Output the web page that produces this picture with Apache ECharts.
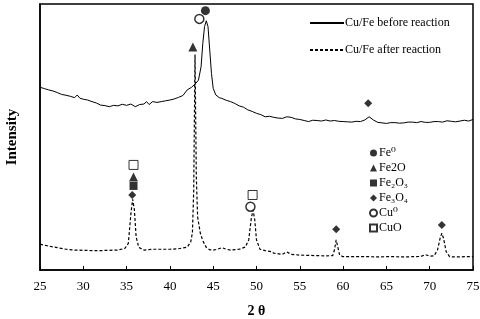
<!DOCTYPE html>
<html>
<head>
<meta charset="utf-8">
<script src="https://cdn.jsdelivr.net/npm/echarts@6/dist/echarts.min.js"></script>
<style>
  html, body { margin: 0; padding: 0; background: #fff; }
  #chart { width: 480px; height: 319px; }
</style>
</head>
<body>
<div id="chart"></div>
<script>
// 2θ positions and intensities (arbitrary units, 0-100)
const beforeTheta = [25, 25.5, 26, 26.5, 27, 27.5, 28, 28.5, 29, 29.3, 29.6, 30, 30.5, 31, 31.5, 32, 32.5, 33, 33.5, 34, 34.5, 35, 35.5, 36, 36.5, 37, 37.3, 37.6, 38, 38.5, 39, 39.5, 40, 40.5, 41, 41.5, 42, 42.5, 43, 43.3, 43.6, 43.8, 44.0, 44.2, 44.4, 44.6, 44.8, 45.0, 45.3, 45.7, 46, 46.5, 47, 47.5, 48, 48.5, 49, 49.5, 50, 50.5, 51, 51.5, 52, 52.5, 53, 53.5, 54, 54.5, 55, 55.5, 56, 56.5, 57, 57.5, 58, 58.5, 59, 59.5, 60, 60.5, 61, 61.5, 62, 62.5, 63, 63.5, 64, 64.5, 65, 65.5, 66, 66.5, 67, 67.5, 68, 68.5, 69, 69.5, 70, 70.5, 71, 71.5, 72, 72.5, 73, 73.5, 74, 74.5, 75];
const beforeIntensity = [68.7, 68.2, 67.7, 67.3, 66.7, 66.0, 65.7, 65.3, 64.8, 65.8, 64.6, 64.2, 63.9, 63.3, 62.8, 62.0, 61.8, 61.4, 61.9, 61.7, 62.3, 61.9, 62.4, 61.4, 62.2, 62.4, 63.3, 62.2, 63.3, 63.0, 63.3, 63.6, 63.9, 64.3, 64.9, 65.6, 67.7, 68.7, 70.2, 71.4, 76.4, 85.2, 91.5, 93.7, 91.5, 82.7, 73.9, 68.3, 65.8, 64.8, 64.5, 63.8, 63.3, 62.6, 61.7, 61.2, 60.2, 59.6, 58.9, 58.4, 57.6, 57.8, 57.4, 57.1, 57.0, 57.6, 57.4, 56.8, 56.6, 56.2, 55.8, 56.3, 56.2, 56.0, 56.4, 56.0, 56.2, 55.9, 55.8, 55.7, 55.6, 55.9, 55.8, 56.4, 57.6, 56.4, 55.5, 55.3, 55.1, 55.4, 55.4, 55.2, 55.3, 55.6, 55.6, 55.4, 55.8, 55.5, 55.5, 55.8, 55.8, 55.6, 56.1, 55.9, 55.7, 56.0, 56.3, 56.0, 56.6];

const afterTheta = [25, 26, 27, 28, 29, 30, 31, 32, 33, 34, 34.8, 35.2, 35.5, 35.7, 35.9, 36.1, 36.4, 37, 38, 39, 40, 41, 42, 42.4, 42.6, 42.75, 42.9, 43.05, 43.2, 43.5, 43.8, 44.2, 44.6, 45, 45.5, 46, 46.5, 47, 48, 48.7, 49.1, 49.4, 49.6, 49.8, 50.0, 50.4, 51, 51.7, 52, 53, 53.5, 54, 55, 56, 57, 58, 58.8, 59.0, 59.2, 59.4, 59.6, 60, 61, 62, 63, 64, 65, 66, 67, 68, 69, 69.5, 70, 70.5, 70.9, 71.2, 71.4, 71.6, 71.9, 72.3, 73, 74, 75];
const afterIntensity = [9.7, 9.0, 8.4, 7.8, 7.5, 7.4, 7.3, 7.3, 7.4, 7.5, 8.1, 10.0, 21.3, 26.6, 22.6, 12.5, 8.5, 7.5, 7.8, 7.8, 7.8, 8.0, 8.6, 10.5, 14.0, 30.0, 81.0, 35.0, 20.0, 14.0, 11.0, 8.5, 7.6, 7.5, 7.8, 8.4, 7.8, 7.5, 7.8, 8.6, 11.3, 19.4, 22.6, 18.8, 11.3, 7.8, 7.3, 6.9, 6.3, 5.9, 6.8, 5.9, 5.6, 5.5, 5.4, 5.3, 5.4, 7.5, 11.3, 8.5, 5.6, 5.0, 5.0, 5.0, 5.0, 4.9, 5.0, 5.0, 4.9, 5.0, 5.1, 5.8, 5.2, 5.3, 7.5, 11.9, 13.8, 11.9, 6.9, 5.0, 4.9, 5.0, 5.0];

// phase markers: [2θ, height]
const fe0Marks = [[44.1, 97.5]];
const feoMarks = [[42.65, 83.8], [35.8, 35.0]];
const fe2o3Marks = [[35.8, 31.6]];
const fe3o4Marks = [[62.9, 62.7], [35.65, 28.2], [59.2, 15.3], [71.4, 16.9]];
const cu0Marks = [[43.4, 94.4], [49.3, 23.8]];
const cuoMarks = [[35.8, 39.5], [49.55, 28.2]];

const xTicks = [25, 30, 35, 40, 45, 50, 55, 60, 65, 70, 75];

const serif = "'Liberation Serif', 'DejaVu Serif', serif";

function zip(xs, ys) {
  return xs.map((x, i) => [x, ys[i]]);
}

const chart = echarts.init(document.getElementById('chart'));

function markSeries(name, symbol, data, size, border) {
  return {
    name: name,
    type: 'scatter',
    symbol: symbol,
    symbolSize: size,
    data: data,
    z: 5,
    itemStyle: border
      ? { color: '#fff', borderColor: '#000', borderWidth: border }
      : { color: '#000' },
    emphasis: { disabled: true }
  };
}

const option = {
  animation: false,
  textStyle: { fontFamily: serif, color: '#000' },
  grid: {
    left: 40, right: 7, top: 4, bottom: 49,
    outerBoundsMode: 'none',
    show: true, borderColor: '#000', borderWidth: 1.5
  },
  legend: [
    {
      data: ['Cu/Fe before reaction', 'Cu/Fe after reaction'],
      orient: 'vertical',
      left: 304, top: 12,
      itemWidth: 34, itemHeight: 10, itemGap: 15,
      itemStyle: { opacity: 0 },
      textStyle: { fontFamily: serif, fontSize: 12, color: '#000', padding: [0, 0, 0, -4] }
    },
    {
      data: ['Fe⁰', 'Fe2O', 'Fe₂O₃', 'Fe₃O₄', 'Cu⁰', 'CuO'],
      orient: 'vertical',
      left: 364, top: 141,
      itemWidth: 7, itemHeight: 7, itemGap: 1,
      textStyle: { fontFamily: serif, fontSize: 12, lineHeight: 14, color: '#000', padding: [0, 0, 0, -3] }
    }
  ],
  xAxis: {
    type: 'value',
    min: 25, max: 75, interval: 5,
    name: '2 θ',
    nameLocation: 'middle',
    nameGap: 34,
    nameTextStyle: { fontFamily: serif, fontSize: 14, fontWeight: 'bold', color: '#000' },
    axisLine: { lineStyle: { color: '#000', width: 1.5 } },
    axisTick: { inside: true, length: 4, lineStyle: { color: '#000' } },
    axisLabel: {
      fontFamily: serif, fontSize: 13, color: '#000', margin: 10,
      formatter: v => (xTicks.includes(v) ? String(v) : '')
    },
    splitLine: { show: false }
  },
  yAxis: {
    type: 'value',
    min: 0, max: 100,
    name: 'Intensity',
    nameLocation: 'middle',
    nameGap: 20,
    nameTextStyle: { fontFamily: serif, fontSize: 15, fontWeight: 'bold', color: '#000' },
    axisLine: { show: true, lineStyle: { color: '#000', width: 1.5 } },
    axisTick: { show: false },
    axisLabel: { show: false },
    splitLine: { show: false }
  },
  series: [
    {
      name: 'Cu/Fe before reaction',
      type: 'line',
      data: zip(beforeTheta, beforeIntensity),
      showSymbol: false,
      symbol: 'none',
      lineStyle: { color: '#000', width: 1 },
      itemStyle: { color: '#000' }
    },
    {
      name: 'Cu/Fe after reaction',
      type: 'line',
      data: zip(afterTheta, afterIntensity),
      showSymbol: false,
      symbol: 'none',
      lineStyle: { color: '#000', width: 1.2, type: [3, 2] },
      itemStyle: { color: '#000' }
    },
    markSeries('Fe⁰', 'circle', fe0Marks, 9),
    markSeries('Fe2O', 'triangle', feoMarks, 9),
    markSeries('Fe₂O₃', 'rect', fe2o3Marks, 8),
    markSeries('Fe₃O₄', 'diamond', fe3o4Marks, 8),
    markSeries('Cu⁰', 'circle', cu0Marks, 9, 1.5),
    markSeries('CuO', 'rect', cuoMarks, 9, 1)
  ]
};

chart.setOption(option);
</script>
</body>
</html>
